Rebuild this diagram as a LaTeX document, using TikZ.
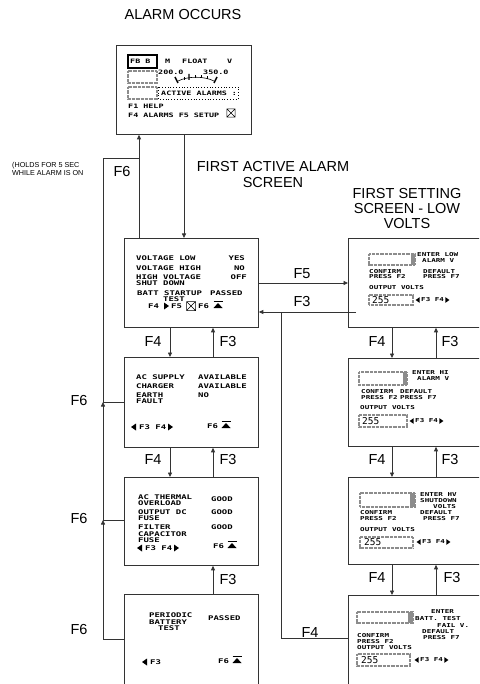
\documentclass[tikz,border=0pt]{standalone}
\usepackage{fontspec}
\setmainfont{Liberation Sans}
\newfontfamily\lcdfont[FakeStretch=1.4]{DejaVu Sans Mono}
\newfontfamily\numfont{DejaVu Sans Mono}
\usetikzlibrary{arrows.meta}
\definecolor{wire}{HTML}{333333}
\definecolor{lcdgray}{HTML}{8c8c8c}
\tikzset{
  rtri/.pic={\fill (-2,-3.5) -- (3,0) -- (-2,3.5) -- cycle;},
  ltri/.pic={\fill (2,-3.5) -- (-3,0) -- (2,3.5) -- cycle;},
  totop/.pic={\fill (-4.5,3) -- (0,-2) -- (4.5,3) -- cycle; \draw[line width=1.2pt] (-4.5,-3.5) -- (4.5,-3.5);},
  xbox/.pic={\draw[line width=0.5pt] (-4.5,-4.5) rectangle (4.5,4.5) (-4.5,-4.5) -- (4.5,4.5) (-4.5,4.5) -- (4.5,-4.5);}
}

\begin{document}
\begin{tikzpicture}[x=1pt, y=-1pt,
  screen/.style={draw=wire, line width=0.8pt, anchor=north west, inner sep=0pt},
  field/.style={draw=lcdgray, line width=1.4pt, dash pattern=on 0.8pt off 0.5pt},
  lcd/.style={font=\lcdfont\bfseries\fontsize{6.4}{6.4}\selectfont, inner sep=0pt, anchor=west, text height=4.6pt, text depth=0pt},
  lcdm/.style={lcd, font=\lcdfont\bfseries\fontsize{6}{6}\selectfont, text height=4.4pt},
  lcds/.style={lcd, font=\lcdfont\bfseries\fontsize{5.4}{5.4}\selectfont, text height=3.9pt},
  num/.style={font=\numfont\fontsize{9.5}{9.5}\selectfont, inner sep=0pt, anchor=west, text height=6.9pt, text depth=0pt},
  lbl/.style={font=\fontsize{14.5}{16}\selectfont, inner sep=0pt},
  title/.style={font=\fontsize{14.5}{16}\selectfont, align=center, inner sep=0pt},
  hold/.style={font=\fontsize{7.2}{8.5}\selectfont, align=left, anchor=west, inner sep=0pt},
  conn/.style={draw=wire, line width=0.8pt},
  arr/.style={conn, -{Triangle[length=4.5pt, width=4pt]}}]
\useasboundingbox (0,0) rectangle (479,684);
\clip (0,0) rectangle (479,684);

% titles
\node[title] (occurs) at (183,15) {ALARM OCCURS};
\node[title] (firstact) at (273,175) {FIRST ACTIVE ALARM\\SCREEN};
\node[title, font=\fontsize{14.5}{15}\selectfont] (firstset) at (407,209) {FIRST SETTING\\SCREEN - LOW\\VOLTS};
\node[hold] (holds) at (12,169) {(HOLDS FOR 5 SEC\\WHILE ALARM IS ON};

% screens
\node[screen, minimum width=135pt, minimum height=89pt] (alarm) at (116,45) {};
\node[screen, minimum width=134pt, minimum height=89pt] (vlow) at (124,238) {};
\node[screen, minimum width=134pt, minimum height=90pt] (acsup) at (124,357) {};
\node[screen, minimum width=134pt, minimum height=88pt] (acth) at (124,477) {};
\node[screen, minimum width=134pt, minimum height=100pt] (perbat) at (124,594) {};
\node[screen, minimum width=134pt, minimum height=89pt] (setlo) at (348,238) {};
\node[screen, minimum width=134pt, minimum height=88pt] (sethi) at (348,358) {};
\node[screen, minimum width=134pt, minimum height=87pt] (sethv) at (348,477) {};
\node[screen, minimum width=134pt, minimum height=100pt] (setbt) at (348,595) {};

% alarm screen
\draw[line width=1.2pt] (128,55) rectangle (157,68);
\node[lcdm] (fbb) at (130,61.5) {FB B};
\draw[field] (128,71) rectangle (157,83);
\draw[field] (128,87) rectangle (157,99);
\node[lcdm] (mlbl) at (165,61.5) {M};
\node[lcdm] (float) at (182,61.5) {FLOAT};
\node[lcdm] (vlbl) at (227,61.5) {V};
\node[lcdm] (lo200) at (158,72) {200.0};
\node[lcdm] (hi350) at (203,72) {350.0};
\draw[line width=0.6pt] (178,81) .. controls (188,76) and (204,76) .. (214,81);
\draw[line width=1.4pt] (175,77) -- (178,83) (189,74) -- (189,80) (217,77) -- (214,83);
\draw[line width=0.5pt] (184,77) -- (184,80) (195,75.5) -- (195,78.5) (201,75.5) -- (201,78.5) (207,76.5) -- (207,79.5);
\draw[dotted, line width=0.8pt] (158,87) rectangle (238,99);
\node[lcdm] (actal) at (161,93) {ACTIVE ALARMS :};
\node[lcdm] (f1help) at (128,106) {F1 HELP};
\node[lcdm] (f4setup) at (128,115) {F4 ALARMS F5 SETUP};
\pic[scale=0.9] at (231,113) {xbox};

% first active alarm screen
\node[lcd] (vl1) at (136,258) {VOLTAGE LOW};
\node[lcd, anchor=east] (vl2) at (245,258) {YES};
\node[lcd] (vl3) at (136,268) {VOLTAGE HIGH};
\node[lcd, anchor=east] (vl4) at (245,268) {NO};
\node[lcd] (vl5) at (136,277) {HIGH VOLTAGE};
\node[lcd, anchor=east] (vl6) at (247,277) {OFF};
\node[lcd] (vl7) at (136,283) {SHUT DOWN};
\node[lcd] (vl8) at (137,293) {BATT STARTUP};
\node[lcd] (vl9) at (210,293) {PASSED};
\node[lcd] (vl10) at (163,299) {TEST};
\node[lcd] (vl11) at (148,306) {F4};
\pic at (166,306) {rtri};
\node[lcd] (vl12) at (171,306) {F5};
\pic at (191,306) {xbox};
\node[lcd] (vl13) at (198,306) {F6};
\pic at (218,305) {totop};

% supply screen
\node[lcd] (as1) at (136,377) {AC SUPPLY};
\node[lcd] (as2) at (198,377) {AVAILABLE};
\node[lcd] (as3) at (136,386) {CHARGER};
\node[lcd] (as4) at (198,386) {AVAILABLE};
\node[lcd] (as5) at (136,395) {EARTH};
\node[lcd] (as6) at (198,395) {NO};
\node[lcd] (as7) at (136,401) {FAULT};
\pic at (134,427) {ltri};
\node[lcd] (as8) at (139,427) {F3 F4};
\pic at (170,427) {rtri};
\node[lcd] (as9) at (207,426) {F6};
\pic at (226,425) {totop};

% thermal screen
\node[lcd] (at1) at (138,497) {AC THERMAL};
\node[lcd] (at2) at (211,499) {GOOD};
\node[lcd] (at3) at (138,503) {OVERLOAD};
\node[lcd] (at4) at (138,512) {OUTPUT DC};
\node[lcd] (at5) at (211,512) {GOOD};
\node[lcd] (at6) at (138,518) {FUSE};
\node[lcd] (at7) at (138,527) {FILTER};
\node[lcd] (at8) at (211,527) {GOOD};
\node[lcd] (at9) at (138,534) {CAPACITOR};
\node[lcd] (at10) at (138,540) {FUSE};
\pic at (140,548) {ltri};
\node[lcd] (at11) at (145,548) {F3 F4};
\pic at (176,548) {rtri};
\node[lcd] (at12) at (213,546) {F6};
\pic at (232,545) {totop};

% battery test screen
\node[lcd] (pb1) at (149,615) {PERIODIC};
\node[lcd] (pb2) at (208,618) {PASSED};
\node[lcd] (pb3) at (149,622) {BATTERY};
\node[lcd] (pb4) at (158,628) {TEST};
\pic at (145,662) {ltri};
\node[lcd] (pb5) at (150,662) {F3};
\node[lcd] (pb6) at (218,661) {F6};
\pic at (237,660) {totop};

% low volts setting
\draw[field] (369,254) rectangle (415,265);
\fill[lcdgray] (411,254) rectangle (415,265);
\node[lcds] (lo1) at (417,255) {ENTER LOW};
\node[lcds] (lo2) at (422,260.5) {ALARM V};
\node[lcds] (lo3) at (369,272) {CONFIRM};
\node[lcds] (lo4) at (369,277) {PRESS F2};
\node[lcds] (lo5) at (423,272) {DEFAULT};
\node[lcds] (lo6) at (423,277) {PRESS F7};
\node[lcds] (lo7) at (369,288) {OUTPUT VOLTS};
\draw[field] (369,295) rectangle (413,305);
\node[num] (lo8) at (372,300) {255};
\pic[scale=0.8] at (418,300) {ltri};
\node[lcds] (lo9) at (421,300) {F3 F4};
\pic[scale=0.8] at (447,300) {rtri};

% high volts setting
\draw[field] (359,372) rectangle (407,385);
\fill[lcdgray] (403,372) rectangle (407,385);
\node[lcds] (hi1) at (412,373) {ENTER HI};
\node[lcds] (hi2) at (417,378.5) {ALARM V};
\node[lcds] (hi3) at (361,392) {CONFIRM};
\node[lcds] (hi4) at (361,398) {PRESS F2};
\node[lcds] (hi5) at (400,392) {DEFAULT};
\node[lcds] (hi6) at (400,398) {PRESS F7};
\node[lcds] (hi7) at (360,408) {OUTPUT VOLTS};
\draw[field] (359,415) rectangle (407,427);
\node[num] (hi8) at (362,421) {255};
\pic[scale=0.8] at (412,421) {ltri};
\node[lcds] (hi9) at (415,421) {F3 F4};
\pic[scale=0.8] at (441,421) {rtri};

% hv shutdown setting
\draw[field] (360,493) rectangle (415,507);
\fill[lcdgray] (410,493) rectangle (415,507);
\node[lcds] (hv1) at (420,495) {ENTER HV};
\node[lcds] (hv2) at (420,501) {SHUTDOWN};
\node[lcds] (hv3) at (433,507) {VOLTS};
\node[lcds] (hv4) at (360,513) {CONFIRM};
\node[lcds] (hv5) at (360,519) {PRESS F2};
\node[lcds] (hv6) at (420,513) {DEFAULT};
\node[lcds] (hv7) at (423,519) {PRESS F7};
\node[lcds] (hv8) at (360,530) {OUTPUT VOLTS};
\draw[field] (360,537) rectangle (413,548);
\node[num] (hv9) at (364,542.5) {255};
\pic[scale=0.8] at (419,542) {ltri};
\node[lcds] (hv10) at (422,542) {F3 F4};
\pic[scale=0.8] at (448,542) {rtri};

% batt test fail setting
\draw[field] (357,612) rectangle (413,623);
\fill[lcdgray] (408,612) rectangle (413,623);
\node[lcds] (bt1) at (431,612) {ENTER};
\node[lcds] (bt2) at (415,619) {BATT. TEST};
\node[lcds] (bt3) at (437,626) {FAIL V.};
\node[lcds] (bt4) at (357,636) {CONFIRM};
\node[lcds] (bt5) at (357,642) {PRESS F2};
\node[lcds] (bt6) at (422,632) {DEFAULT};
\node[lcds] (bt7) at (423,638) {PRESS F7};
\node[lcds] (bt8) at (357,648) {OUTPUT VOLTS};
\draw[field] (357,654) rectangle (410,666);
\node[num] (bt9) at (361,660) {255};
\pic[scale=0.8] at (417,660) {ltri};
\node[lcds] (bt10) at (420,660) {F3 F4};
\pic[scale=0.8] at (446,660) {rtri};

% connector columns and bends
\coordinate (cup) at (139,0);
\coordinate (cdn) at (184,0);
\coordinate (c4) at (170,0);
\coordinate (c3) at (213,0);
\coordinate (r4) at (392,0);
\coordinate (r3) at (436,0);
\coordinate (t1) at (103,158);
\coordinate (t2) at (103,402);
\coordinate (t3) at (103,520);
\coordinate (t4) at (103,639);
\coordinate (f5) at (0,283);
\coordinate (f3s) at (356,312);
\coordinate (ret) at (281,638);

\draw[arr] (alarm.south -| cdn) -- (vlow.north -| cdn);
\draw[arr] (vlow.north -| cup) -- (alarm.south -| cup);
\draw[conn] (acsup.west |- t2) -- (t2) -- (t1) -- (t1 -| cup);
\draw[arr] (acth.west |- t3) -- (t3) -- (t2);
\draw[arr] (perbat.west |- t4) -- (t4) -- (t3);

\draw[arr] (vlow.south -| c4) -- (acsup.north -| c4);
\draw[arr] (acsup.north -| c3) -- (vlow.south -| c3);
\draw[arr] (acsup.south -| c4) -- (acth.north -| c4);
\draw[arr] (acth.north -| c3) -- (acsup.south -| c3);
\draw[arr] (perbat.north -| c3) -- (acth.south -| c3);

\draw[arr] (setlo.south -| r4) -- (sethi.north -| r4);
\draw[arr] (sethi.north -| r3) -- (setlo.south -| r3);
\draw[arr] (sethi.south -| r4) -- (sethv.north -| r4);
\draw[arr] (sethv.north -| r3) -- (sethi.south -| r3);
\draw[arr] (sethv.south -| r4) -- (setbt.north -| r4);
\draw[arr] (setbt.north -| r3) -- (sethv.south -| r3);

\draw[arr] (vlow.east |- f5) -- (setlo.west |- f5);
\draw[arr] (f3s) -- (vlow.east |- f3s);
\draw[conn] (setbt.west |- ret) -- (ret) -- (ret |- f3s);

% key labels
\node[lbl] (f6a) at (122,172) {F6};
\node[lbl] (f6b) at (79,401) {F6};
\node[lbl] (f6c) at (79,519) {F6};
\node[lbl] (f6d) at (79,630) {F6};
\node[lbl] (f4a) at (153,342) {F4};
\node[lbl] (f3a) at (228,342) {F3};
\node[lbl] (f4b) at (153,460) {F4};
\node[lbl] (f3b) at (228,460) {F3};
\node[lbl] (f3c) at (228,580) {F3};
\node[lbl] (f5r) at (302,274) {F5};
\node[lbl] (f3r) at (302,302) {F3};
\node[lbl] (f4r) at (310,633) {F4};
\node[lbl] (f4d) at (377,342) {F4};
\node[lbl] (f3d) at (450,342) {F3};
\node[lbl] (f4e) at (377,460) {F4};
\node[lbl] (f3e) at (450,460) {F3};
\node[lbl] (f4f) at (377,578) {F4};
\node[lbl] (f3f) at (452,578) {F3};
\end{tikzpicture}
\end{document}
